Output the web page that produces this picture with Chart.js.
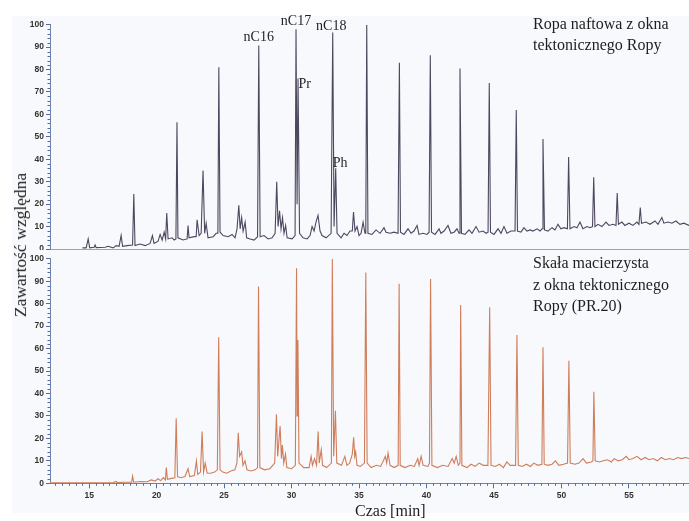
<!DOCTYPE html>
<html>
<head>
<meta charset="utf-8">
<script src="https://cdn.jsdelivr.net/npm/chart.js@4.4.0/dist/chart.umd.min.js"></script>
<style>
  body { margin: 0; background: #fff; }
  #page { position: relative; width: 689px; height: 521px; overflow: hidden;
          font-family: "Liberation Serif", "Times New Roman", serif; color: #1e1e1e; }
  .plot-bg { position: absolute; left: 12px; top: 16px; width: 677px; height: 497px; background: #f8f9fc; }
  .cap { position: absolute; font-size: 16px; white-space: nowrap; }
  canvas { position: absolute; left: 0; }
  #ytitle { position: absolute; left: 19.6px; top: 245px; font-size: 17.5px; line-height: 18px;
            white-space: nowrap; transform: translate(-50%, -50%) rotate(-90deg); }
</style>
</head>
<body>
<div id="page">
  <div class="plot-bg"></div>
  <canvas id="oilChart" width="689" height="250" style="top:0"></canvas>
  <canvas id="rockChart" width="689" height="271" style="top:250px"></canvas>
  <div class="cap" style="left:533px; top:13.4px; line-height:21px;">Ropa naftowa z okna<br>tektonicznego Ropy</div>
  <div class="cap" style="left:533px; top:252px; line-height:21.7px;">Skała macierzysta<br>z okna tektonicznego<br>Ropy (PR.20)</div>
  <div class="cap" style="left:355px; top:501.6px; line-height:18px;">Czas [min]</div>
  <div id="ytitle">Zawartość względna</div>
</div>
<script>
// retention time axis [min] and relative abundance axis [%]
const timeTicks = [15, 20, 25, 30, 35, 40, 45, 50, 55];
const levelTicks = [0, 10, 20, 30, 40, 50, 60, 70, 80, 90, 100];
const timeMin = 12.1;
const timeMax = 59.45;

// crude oil chromatogram: [time, relative abundance]
const oilTrace = [
  [14.5, 0.5], [14.78, 0.5], [14.93, 4.5], [15.04, 0.5], [15.37, 0.8], [15.44, 1.8], [15.52, 0.6],
  [16.19, 0.8], [16.4, 1.2], [16.78, 0.5], [17.0, 1.5], [17.22, 1.2], [17.37, 6], [17.48, 1.2],
  [17.81, 1.5], [18.22, 1.8], [18.31, 24.5], [18.4, 1.5], [18.78, 2.2], [19.15, 1.5], [19.52, 2.5],
  [19.69, 6], [19.81, 2.5], [20.11, 3.5], [20.26, 6.5], [20.41, 4], [20.56, 7.5], [20.67, 4.5],
  [20.75, 16], [20.85, 4.5], [21.15, 5], [21.3, 4], [21.43, 4.5], [21.51, 56.5], [21.58, 5],
  [21.96, 4], [22.26, 4.5], [22.33, 10.5], [22.4, 5], [22.78, 5.5], [22.93, 5.5], [23.0, 13],
  [23.15, 6], [23.3, 7], [23.44, 35], [23.56, 7], [23.67, 11.5], [23.81, 5], [24.19, 5.5],
  [24.41, 7], [24.54, 7], [24.61, 81], [24.7, 7.5], [24.93, 6], [25.3, 5.5], [25.59, 6.5],
  [25.81, 5], [25.96, 9], [26.09, 19.5], [26.19, 9], [26.3, 14], [26.41, 8], [26.56, 12],
  [26.67, 5], [26.93, 4.5], [27.22, 4], [27.48, 5.5], [27.57, 90.7], [27.67, 5.5], [27.96, 6],
  [28.26, 4.5], [28.56, 5], [28.78, 7], [28.9, 30], [29.0, 10], [29.11, 17], [29.22, 9],
  [29.33, 14], [29.44, 7], [29.56, 10.5], [29.67, 5], [30.04, 4.5], [30.26, 6], [30.33, 98],
  [30.41, 20], [30.48, 76], [30.59, 7], [30.85, 5], [31.15, 4.5], [31.37, 6], [31.52, 10],
  [31.67, 8], [31.81, 12], [31.96, 15], [32.11, 8], [32.26, 6], [32.56, 5], [32.93, 7],
  [32.99, 7], [33.05, 96.5], [33.15, 10], [33.27, 36], [33.37, 7], [33.67, 5], [33.89, 7],
  [34.11, 6], [34.33, 8], [34.5, 8], [34.59, 16.5], [34.7, 8], [34.85, 10], [35.0, 6],
  [35.15, 7], [35.3, 12], [35.44, 7], [35.5, 7], [35.57, 100], [35.66, 7], [35.96, 6.5],
  [36.26, 8.5], [36.56, 7], [36.85, 9.5], [37.0, 7.5], [37.3, 7], [37.59, 7.5], [37.89, 7],
  [37.99, 83], [38.07, 7.5], [38.33, 6.5], [38.63, 9], [38.85, 7], [39.07, 8], [39.3, 10.5],
  [39.44, 6.5], [39.74, 7], [40.04, 6.5], [40.19, 7.5], [40.28, 86.4], [40.37, 7.5], [40.63, 6.5],
  [40.93, 9], [41.07, 7], [41.3, 8], [41.59, 10.5], [41.81, 7], [42.04, 7.5], [42.26, 9],
  [42.41, 7], [42.48, 80.5], [42.59, 7], [42.85, 6.5], [43.15, 8.5], [43.37, 7], [43.67, 10],
  [43.89, 7.5], [44.19, 8], [44.41, 7], [44.56, 7.5], [44.65, 74], [44.74, 7.5], [45.0, 6.5],
  [45.3, 9], [45.52, 7], [45.74, 10], [45.96, 7], [46.26, 8], [46.56, 8], [46.65, 62],
  [46.74, 8], [47.0, 7.5], [47.22, 9.5], [47.44, 8], [47.67, 8.5], [47.89, 8], [48.19, 9],
  [48.41, 8], [48.56, 9], [48.63, 49], [48.74, 8.5], [49.0, 8], [49.3, 9.5], [49.52, 8.5],
  [49.74, 11], [49.96, 9], [50.19, 9.5], [50.44, 9], [50.53, 41], [50.63, 9], [50.93, 10],
  [51.15, 9.5], [51.37, 12], [51.59, 9], [51.89, 10], [52.11, 9.5], [52.3, 10], [52.39, 32],
  [52.48, 10], [52.7, 11], [53.0, 10], [53.3, 12], [53.52, 10.5], [53.81, 11], [54.04, 10.5],
  [54.13, 25], [54.22, 11], [54.48, 12], [54.7, 10.5], [55.0, 11.5], [55.3, 10.5], [55.59, 12],
  [55.74, 11], [55.84, 18.5], [55.93, 11.5], [56.26, 12], [56.56, 11], [56.93, 12.5], [57.15, 11],
  [57.44, 14], [57.59, 11.5], [57.89, 12], [58.19, 11.5], [58.48, 12.5], [58.78, 11], [59.07, 11.5],
  [59.45, 10.5]
];

// source rock extract chromatogram: [time, relative abundance]
const rockTrace = [
  [12.1, 0.2], [14.0, 0.2], [16.8, 0.3], [17.0, 0.8], [17.1, 0.3], [17.6, 0.5], [18.15, 0.5],
  [18.22, 3.2], [18.3, 0.5], [18.8, 0.8], [19.3, 0.7], [19.6, 1.5], [19.9, 1.0], [20.1, 2],
  [20.3, 1.2], [20.5, 2.5], [20.65, 1.5], [20.72, 7], [20.8, 1.8], [21.1, 2.2], [21.35, 2.5],
  [21.45, 29], [21.55, 3], [21.8, 2.5], [22.1, 3], [22.33, 6.5], [22.45, 3], [22.8, 3.5],
  [22.95, 10], [23.05, 4], [23.25, 5], [23.37, 23], [23.48, 5], [23.6, 9], [23.75, 4.5],
  [24.0, 4.5], [24.3, 5], [24.5, 6], [24.6, 65], [24.7, 6], [24.9, 5], [25.2, 4.5], [25.5, 5.5],
  [25.8, 6], [25.95, 9], [26.05, 22.5], [26.15, 12], [26.3, 14], [26.4, 8], [26.55, 10],
  [26.7, 6], [27.0, 5.5], [27.3, 6], [27.48, 7], [27.55, 87.6], [27.65, 7], [28.0, 6],
  [28.4, 6.5], [28.75, 9], [28.88, 30.7], [28.97, 12], [29.15, 25.5], [29.25, 11], [29.32, 17],
  [29.42, 9], [29.55, 13], [29.65, 7], [30.0, 6.5], [30.28, 8], [30.37, 95.8], [30.41, 30],
  [30.47, 63.8], [30.55, 9], [30.9, 7], [31.3, 7], [31.45, 12], [31.55, 8], [31.7, 11],
  [31.85, 8], [31.97, 23], [32.05, 9], [32.2, 15], [32.3, 8], [32.6, 7], [32.95, 9],
  [33.02, 99.9], [33.12, 12], [33.25, 32.3], [33.35, 9], [33.7, 8], [33.95, 12], [34.1, 8],
  [34.3, 9], [34.5, 13], [34.6, 20.5], [34.68, 12], [34.75, 14], [34.85, 8], [35.1, 7.5],
  [35.4, 9], [35.5, 93.8], [35.6, 9], [35.9, 7], [36.3, 8], [36.6, 7.5], [36.8, 10],
  [36.95, 12], [37.05, 9], [37.15, 13.5], [37.3, 8], [37.6, 7], [37.9, 8], [37.97, 88.8],
  [38.05, 8], [38.4, 7], [38.8, 8], [39.1, 7.5], [39.35, 11], [39.45, 8], [39.6, 12],
  [39.75, 8], [40.1, 7.5], [40.22, 9], [40.3, 91], [40.4, 8], [40.8, 7], [41.2, 8],
  [41.6, 7.5], [41.9, 11], [42.05, 9], [42.2, 12], [42.35, 8], [42.48, 9], [42.53, 79.4],
  [42.62, 8], [43.0, 7], [43.3, 8.5], [43.6, 7.5], [43.9, 9], [44.2, 8], [44.55, 8],
  [44.68, 78.4], [44.78, 8], [45.1, 7.5], [45.4, 8.5], [45.7, 7], [45.95, 9.5], [46.2, 8],
  [46.6, 8], [46.7, 66], [46.8, 8], [47.1, 7.5], [47.4, 8.5], [47.7, 7.5], [47.95, 9],
  [48.25, 8], [48.55, 8.5], [48.63, 60.6], [48.72, 8.5], [49.0, 8], [49.3, 8.5], [49.55, 10],
  [49.8, 8], [50.15, 8.5], [50.45, 9], [50.55, 54.6], [50.65, 9], [51.0, 8.5], [51.3, 9],
  [51.6, 11], [51.85, 9], [52.2, 9.5], [52.33, 10], [52.4, 40.8], [52.5, 10], [52.8, 9.5],
  [53.1, 10], [53.4, 10.5], [53.7, 9.5], [53.9, 11], [54.2, 10], [54.5, 10.5], [54.8, 12],
  [55.0, 10.5], [55.3, 11], [55.6, 12], [55.9, 10.5], [56.2, 11.5], [56.5, 10.5], [56.8, 11],
  [57.1, 10], [57.4, 11.5], [57.7, 10.5], [58.0, 11], [58.3, 10.5], [58.6, 11.5], [58.9, 11],
  [59.2, 11.5], [59.45, 11]
];

// identified compounds in the oil trace
const peakNames = ['nC16', 'nC17', 'Pr', 'nC18', 'Ph'];
const peakTimes = [27.57, 30.33, 30.48, 33.05, 33.27];

const tickBlue = '#4f6ea6';
const tickFont = { family: '"Liberation Sans", Arial, sans-serif', size: 8.5, weight: 'bold' };

// where each compound name sits relative to its peak top (px)
const labelPlacement = [
  { align: 'center', dx: 0, dy: -5 },
  { align: 'center', dx: 0, dy: -4.3 },
  { align: 'left', dx: 0.5, dy: 9 },
  { align: 'center', dx: -1.5, dy: -2.3 },
  { align: 'left', dx: -3, dy: -1.5 }
];

const toPoints = trace => trace.map(p => ({ x: p[0], y: p[1] }));

// short ticks between the labelled ones
const minorTicks = {
  id: 'minorTicks',
  afterDraw(chart, args, opts) {
    const { ctx, chartArea, scales } = chart;
    ctx.save();
    ctx.strokeStyle = tickBlue;
    ctx.lineWidth = 1;
    for (let v = 2; v < 100; v += 2) {
      if (v % 10 === 0) continue;
      const py = Math.round(scales.y.getPixelForValue(v)) + 0.5;
      ctx.beginPath();
      ctx.moveTo(chartArea.left - 2.5, py);
      ctx.lineTo(chartArea.left, py);
      ctx.stroke();
    }
    if (opts.timeAxis) {
      for (let t = 12.5; t < timeMax; t += 0.5) {
        if (t % 5 === 0) continue;
        const px = Math.round(scales.x.getPixelForValue(t)) + 0.5;
        ctx.beginPath();
        ctx.moveTo(px, chartArea.bottom);
        ctx.lineTo(px, chartArea.bottom + 2.5);
        ctx.stroke();
      }
    }
    ctx.restore();
  }
};

const peakLabels = {
  id: 'peakLabels',
  afterDraw(chart, args, opts) {
    if (!opts.show) return;
    const { ctx, scales } = chart;
    const data = chart.data.datasets[0].data;
    ctx.save();
    ctx.font = '14px "Liberation Serif", "Times New Roman", serif';
    ctx.fillStyle = '#1e1e1e';
    ctx.textBaseline = 'alphabetic';
    peakNames.forEach((name, i) => {
      const top = data.find(p => p.x === peakTimes[i]);
      const place = labelPlacement[i];
      ctx.textAlign = place.align;
      ctx.fillText(name, scales.x.getPixelForValue(top.x) + place.dx,
                   scales.y.getPixelForValue(top.y) + place.dy);
    });
    ctx.restore();
  }
};

function levelAxis() {
  return {
    min: 0, max: 100,
    afterBuildTicks: s => { s.ticks = levelTicks.map(v => ({ value: v })); },
    afterFit: s => { s.width = 38; s.paddingTop = 0; s.paddingBottom = 0; },
    ticks: { color: '#333', font: tickFont, padding: 2 },
    grid: { drawOnChartArea: false, color: tickBlue, tickLength: 4 },
    border: { color: '#6f82ad', width: 1 }
  };
}

function makeChart(id, trace, color, top) {
  const timeAxis = {
    type: 'linear', min: timeMin, max: timeMax,
    afterBuildTicks: s => { s.ticks = timeTicks.map(v => ({ value: v })); }
  };
  if (top) {
    Object.assign(timeAxis, {
      afterFit: s => { s.height = 0; s.paddingLeft = 0; s.paddingRight = 0; },
      ticks: { display: false },
      grid: { display: false },
      border: { color: '#a3a3a8', width: 1 }
    });
  } else {
    Object.assign(timeAxis, {
      afterFit: s => { s.height = 37.7; s.paddingLeft = 0; s.paddingRight = 0; },
      ticks: { color: '#333', font: tickFont, padding: 2, maxRotation: 0 },
      grid: { drawOnChartArea: false, color: tickBlue, tickLength: 5 },
      border: { color: '#6f82ad', width: 1 }
    });
  }
  return new Chart(document.getElementById(id), {
    type: 'line',
    data: {
      datasets: [{
        data: toPoints(trace),
        borderColor: color,
        borderWidth: 1.1,
        pointRadius: 0,
        tension: 0,
        fill: false
      }]
    },
    options: {
      responsive: false,
      animation: false,
      devicePixelRatio: 1,
      layout: { padding: top ? { left: 12, top: 24.7, right: 0, bottom: 1 }
                             : { left: 12, top: 8.7, right: 0, bottom: 0 } },
      scales: { x: timeAxis, y: levelAxis() },
      plugins: {
        legend: { display: false },
        tooltip: { enabled: false },
        minorTicks: { timeAxis: !top },
        peakLabels: { show: top }
      }
    },
    plugins: [minorTicks, peakLabels]
  });
}

makeChart('oilChart', oilTrace, '#4e4760', true);
makeChart('rockChart', rockTrace, '#cf7d5a', false);
</script>
</body>
</html>
